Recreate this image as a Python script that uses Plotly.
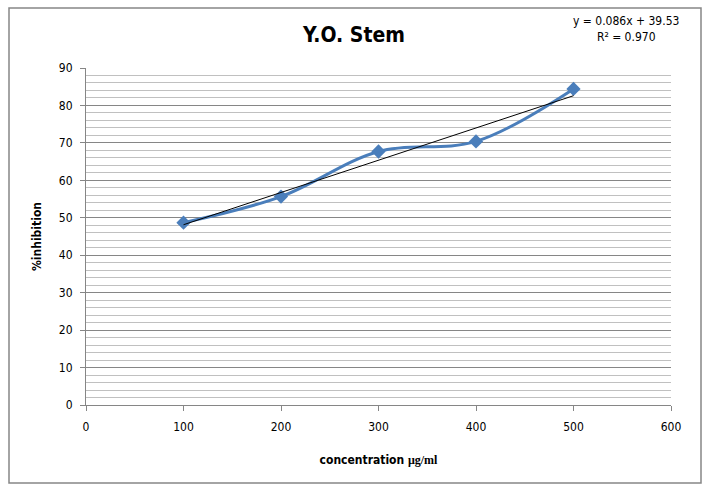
import numpy as np
import plotly.graph_objects as go

concentration = [100, 200, 300, 400, 500]
inhibition = [48.7, 55.66, 67.7, 70.4, 84.4]
x_ticks = [0, 100, 200, 300, 400, 500, 600]
y_ticks = [0, 10, 20, 30, 40, 50, 60, 70, 80, 90]

slope, intercept = np.polyfit(concentration, inhibition, 1)
pred = np.polyval([slope, intercept], concentration)
ss_res = np.sum((np.array(inhibition) - pred) ** 2)
ss_tot = np.sum((np.array(inhibition) - np.mean(inhibition)) ** 2)
r2 = 1 - ss_res / ss_tot
trend_x = [concentration[0], concentration[-1]]
trend_y = [slope * v + intercept for v in trend_x]

fig = go.Figure()
fig.add_trace(go.Scatter(
    x=concentration, y=inhibition, mode="lines+markers",
    line=dict(color="#4a7ebb", width=3, shape="spline", smoothing=1),
    marker=dict(symbol="diamond", size=11, color="#4a7ebb"),
    showlegend=False, cliponaxis=False))
fig.add_trace(go.Scatter(
    x=trend_x, y=trend_y, mode="lines",
    line=dict(color="black", width=1), showlegend=False))

font_main = "DejaVu Sans Condensed, Liberation Sans Narrow, Arial"

fig.update_layout(
    width=708, height=496,
    margin=dict(l=86, r=37, t=68, b=91),
    paper_bgcolor="white", plot_bgcolor="white",
    font=dict(family=font_main, size=12, color="black"),
    title=dict(text="<b>Y.O. Stem</b>", x=0.5, xanchor="center", y=0.93, yanchor="middle",
               font=dict(size=21, family=font_main, color="black")),
    xaxis=dict(range=[0, 600], tickvals=x_ticks, showgrid=False, zeroline=False,
               showline=True, linecolor="#868686", ticks="outside", ticklen=5,
               tickcolor="#868686", automargin=False, ticklabelstandoff=6,
               title=dict(text="<b>concentration <span style='font-family:Liberation Serif'>μg/ml</span></b>",
                          font=dict(size=12), standoff=22)),
    yaxis=dict(range=[0, 90], tickvals=y_ticks, showgrid=True, gridcolor="#868686",
               gridwidth=1, zeroline=False, showline=True, linecolor="#868686",
               ticks="outside", ticklen=5, tickcolor="#868686", automargin=False,
               ticklabelstandoff=5,
               minor=dict(dtick=2, showgrid=True, gridcolor="#c0c0c0", gridwidth=1),
               title=dict(text="<b>%inhibition</b>", font=dict(size=12), standoff=14)),
    annotations=[dict(
        text=f"y = {slope:.3f}x + {intercept:.2f}<br>R² = {r2:.3f}",
        xref="paper", yref="paper", x=(626 - 86) / 585, y=(405 - 29) / 337,
        xanchor="center", yanchor="middle", showarrow=False, align="center",
        font=dict(size=12))],
    shapes=[dict(type="rect", xref="paper", yref="paper",
                 x0=(9 - 86) / 585, x1=(701 - 86) / 585,
                 y0=(405 - 483) / 337, y1=(405 - 8) / 337,
                 line=dict(color="#868686", width=1.5), layer="below")],
)

fig.write_html("out.html", config={"displayModeBar": False},
               post_script="document.body.style.margin='0';")
